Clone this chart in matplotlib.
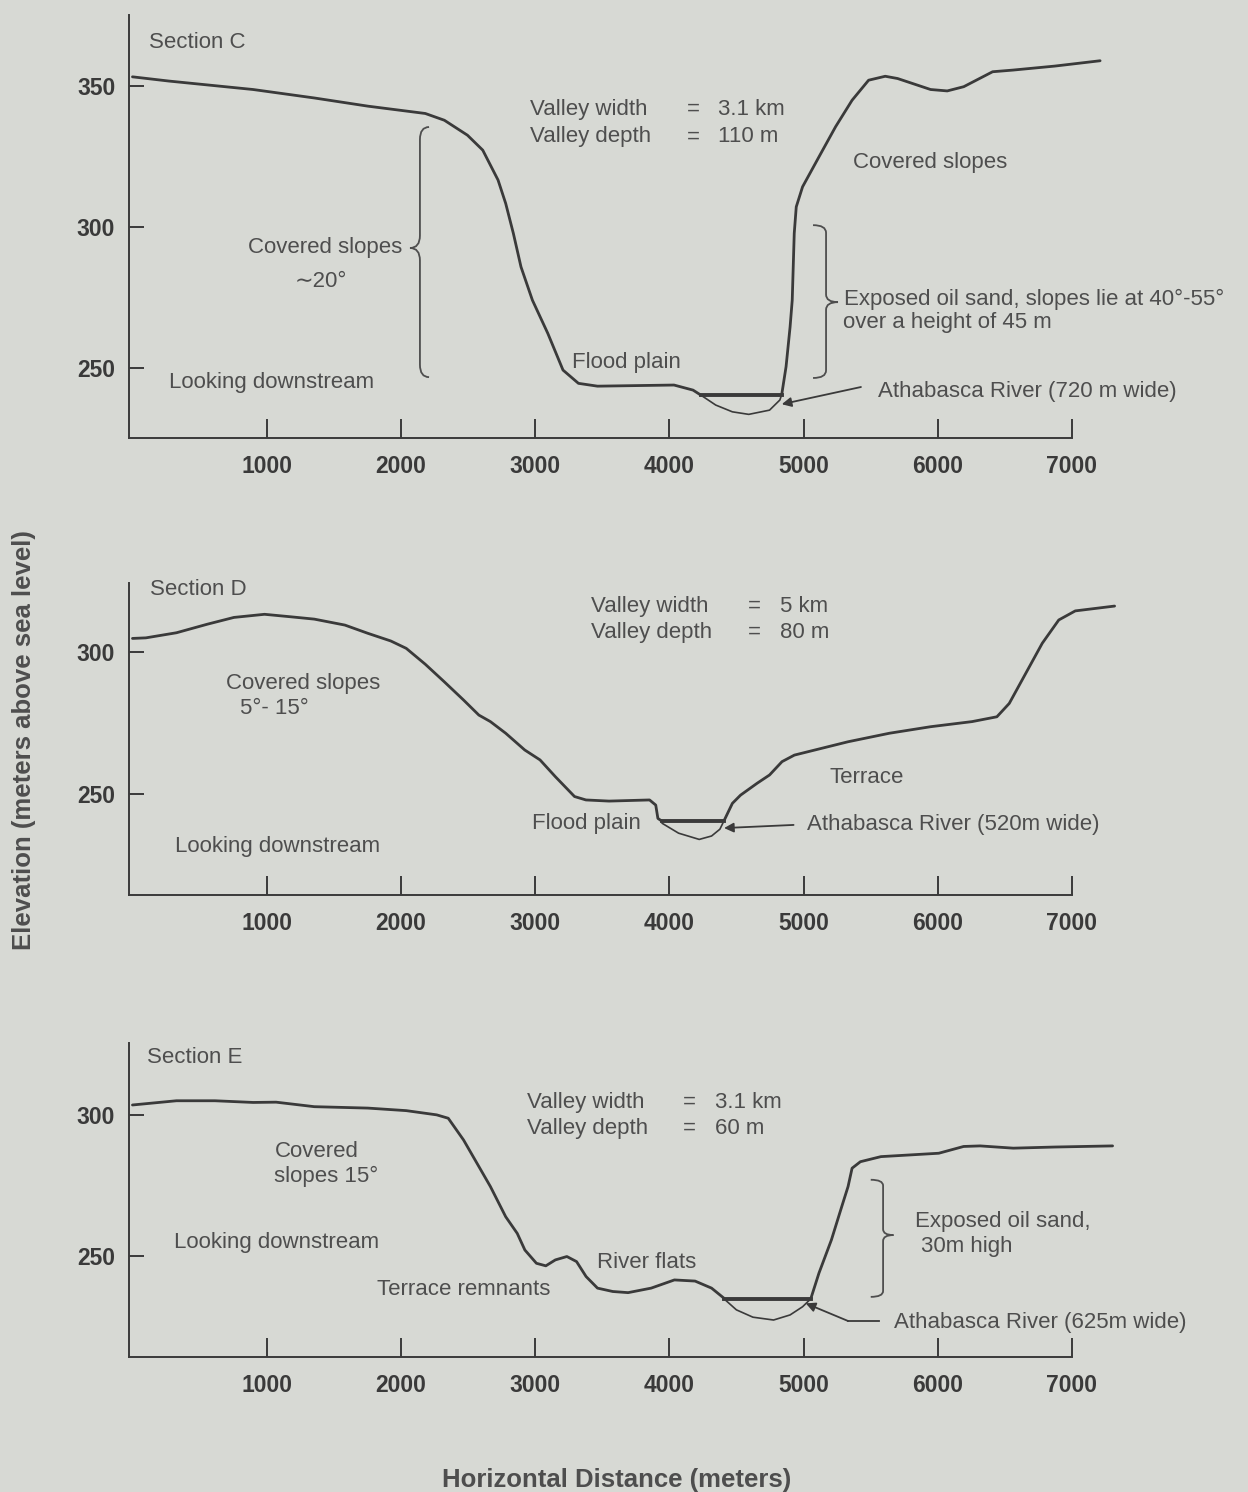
import matplotlib
matplotlib.use("Agg")
import matplotlib.pyplot as plt
from matplotlib.path import Path
from matplotlib.patches import PathPatch

plt.rcParams["font.family"] = ["Liberation Sans", "DejaVu Sans"]

BG = "#d7d9d4"
INK = "#3a3a3a"
TXT = "#4e4e4e"

# ---- Section C profile (distance m, elevation m) ----
c_left_x = [0, 271, 899, 1355, 1754, 2182, 2324, 2496, 2610, 2724, 2781, 2838,
            2895, 2980, 3095, 3208, 3323, 3465, 4035, 4177, 4236]
c_left_z = [353.3, 351.8, 348.8, 345.8, 342.9, 340.3, 337.9, 332.6, 327.3, 316.7,
            308.4, 297.8, 285.9, 274.1, 262.3, 249.3, 244.6, 243.6, 244.0, 242.2, 240.4]
c_bed_x = [4236, 4346, 4470, 4592, 4747, 4824, 4838]
c_bed_z = [240.4, 236.9, 234.5, 233.6, 235.1, 238.7, 240.7]
c_right_x = [4838, 4870, 4900, 4916, 4931, 4946, 4993, 5115, 5239, 5362, 5485, 5609,
             5701, 5947, 6071, 6194, 6409, 6563, 6871, 7210]
c_right_z = [240.7, 250.5, 264.6, 274.1, 297.8, 307.2, 314.3, 324.9, 335.6, 345.0,
             352.1, 353.5, 352.7, 348.8, 348.3, 349.8, 355.1, 355.7, 357.1, 359.0]
c_river = [4236, 4838]
c_level = 240.6

# ---- Section D profile ----
d_left_x = [0, 100, 328, 557, 756, 984, 1184, 1355, 1583, 1754, 1925, 2040, 2182,
            2324, 2467, 2581, 2667, 2781, 2923, 3037, 3151, 3294, 3379, 3551, 3853,
            3899, 3915, 3946]
d_left_z = [304.8, 305.0, 306.8, 309.8, 312.2, 313.3, 312.4, 311.6, 309.5, 306.6,
            303.9, 301.3, 295.7, 289.5, 283.1, 277.8, 275.5, 271.4, 265.5, 262.0,
            256.1, 249.1, 247.9, 247.5, 247.9, 246.1, 241.4, 240.4]
d_bed_x = [3946, 4069, 4223, 4315, 4377, 4408]
d_bed_z = [239.7, 236.2, 234.0, 235.2, 237.6, 240.6]
d_right_x = [4408, 4470, 4531, 4655, 4747, 4840, 4932, 5085, 5332, 5640, 5947, 6256,
             6441, 6533, 6656, 6779, 6902, 7025, 7180, 7318]
d_right_z = [240.6, 246.7, 249.6, 253.8, 256.7, 261.4, 263.7, 265.5, 268.4, 271.4,
             273.7, 275.5, 277.2, 281.9, 292.5, 303.1, 311.3, 314.5, 315.4, 316.2]
d_river = [3946, 4408]
d_level = 240.6

# ---- Section E profile ----
e_left_x = [0, 328, 614, 899, 1070, 1355, 1754, 2040, 2267, 2353, 2467, 2581, 2667,
            2781, 2867, 2924, 3010, 3080, 3151, 3237, 3309, 3380, 3465, 3579, 3693,
            3865, 4038, 4192, 4315, 4408]
e_left_z = [303.5, 305.0, 305.0, 304.4, 304.5, 302.9, 302.4, 301.5, 300.0, 298.8,
            291.1, 281.7, 274.6, 263.9, 258.0, 252.1, 247.4, 246.5, 248.6, 249.8,
            248.0, 242.7, 238.6, 237.4, 237.0, 238.6, 241.5, 241.1, 238.6, 235.0]
e_bed_x = [4408, 4500, 4623, 4777, 4900, 4993, 5054]
e_bed_z = [234.8, 230.9, 228.3, 227.3, 229.1, 232.0, 234.8]
e_right_x = [5054, 5115, 5208, 5285, 5332, 5362, 5424, 5577, 5793, 6008, 6193, 6316,
             6563, 6871, 7303]
e_right_z = [234.8, 243.9, 255.7, 267.5, 274.6, 281.1, 283.4, 285.2, 285.8, 286.4,
             288.8, 289.0, 288.2, 288.6, 289.0]
e_river = [4408, 5054]
e_level = 234.8

x_ticks = [1000, 2000, 3000, 4000, 5000, 6000, 7000]
c_yticks = [250, 300, 350]
de_yticks = [250, 300]


def setup(ax, ylim, yticks):
    ax.set_facecolor(BG)
    ax.set_xlim(-25, 8000)
    ax.set_ylim(*ylim)
    for s in ["top", "right"]:
        ax.spines[s].set_visible(False)
    for s in ["left", "bottom"]:
        ax.spines[s].set_color(INK)
        ax.spines[s].set_linewidth(1.4)
    ax.spines["bottom"].set_bounds(-25, 7000)
    ax.set_xticks(x_ticks)
    ax.set_xticklabels([str(t) for t in x_ticks])
    ax.set_yticks(yticks)
    ax.set_yticklabels([str(t) for t in yticks])
    ax.tick_params(axis="x", direction="in", length=14, width=1.4, color=INK, pad=12)
    ax.tick_params(axis="y", direction="in", length=11, width=1.4, color=INK, pad=10)
    for lab in ax.get_xticklabels() + ax.get_yticklabels():
        lab.set_fontweight("bold")
        lab.set_fontsize(16.5)
        lab.set_color(INK)


def profile(ax, lx, lz, bx, bz, rx, rz, river, level):
    kw = dict(color=INK, solid_capstyle="round", solid_joinstyle="round")
    ax.plot(lx, lz, lw=2.0, **kw)
    ax.plot(bx, bz, lw=1.2, **kw)
    ax.plot(rx, rz, lw=2.0, **kw)
    ax.plot(river, [level, level], color=INK, lw=2.8)


def brace(ax, x, y_lo, y_hi, y_mid, x_tip, x_hook):
    # curly bracket drawn as quadratic curves, hooks toward x_hook, point toward x_tip
    r = (y_hi - y_lo) * 0.05
    verts = [(x_hook, y_hi), (x, y_hi), (x, y_hi - r),
             (x, y_mid + r),
             (x, y_mid), (x_tip, y_mid),
             (x, y_mid), (x, y_mid - r),
             (x, y_lo + r),
             (x, y_lo), (x_hook, y_lo)]
    codes = [Path.MOVETO, Path.CURVE3, Path.CURVE3,
             Path.LINETO,
             Path.CURVE3, Path.CURVE3,
             Path.CURVE3, Path.CURVE3,
             Path.LINETO,
             Path.CURVE3, Path.CURVE3]
    ax.add_patch(PathPatch(Path(verts, codes), fill=False, edgecolor=TXT, lw=1.3))


def label(ax, x, y, s, **kw):
    ax.text(x, y, s, fontsize=16, color=TXT, va="baseline", **kw)


def valley(ax, x, y_top, y_bot, x_eq, x_val, width, depth):
    label(ax, x, y_top, "Valley width")
    label(ax, x, y_bot, "Valley depth")
    label(ax, x_eq, y_top, "=", ha="center")
    label(ax, x_eq, y_bot, "=", ha="center")
    label(ax, x_val, y_top, width)
    label(ax, x_val, y_bot, depth)


arrow_kw = dict(arrowstyle="-|>", color=INK, lw=1.3, mutation_scale=14,
                shrinkA=0, shrinkB=0)

fig = plt.figure(figsize=(12.48, 14.92), dpi=100)
fig.patch.set_facecolor(BG)

axc = fig.add_axes([0.10345, 0.7064, 0.8630, 0.2835])
axd = fig.add_axes([0.10345, 0.4001, 0.8630, 0.2091])
axe = fig.add_axes([0.10345, 0.0905, 0.8630, 0.2105])

# Section C
setup(axc, (225.2, 375.2), c_yticks)
profile(axc, c_left_x, c_left_z, c_bed_x, c_bed_z, c_right_x, c_right_z, c_river, c_level)
label(axc, 123, 363.5, "Section C")
valley(axc, 2962, 339.7, 330.1, 4176, 4362, "3.1 km", "110 m")
label(axc, 2011, 290.8, "Covered slopes", ha="right")
label(axc, 1211, 278.7, "\u223c20\u00b0")
brace(axc, 2142, 246.8, 335.5, 292.6, 2068, 2210)
label(axc, 272, 242.9, "Looking downstream")
label(axc, 3275, 250.0, "Flood plain")
label(axc, 5369, 320.9, "Covered slopes")
brace(axc, 5168, 246.5, 300.7, 273.4, 5257, 5071)
label(axc, 5302, 272.3, "Exposed oil sand, slopes lie at 40\u00b0-55\u00b0")
label(axc, 5295, 264.2, "over a height of 45 m")
label(axc, 5555, 239.7, "Athabasca River (720 m wide)")
axc.annotate("", xy=(4838, 237.2), xytext=(5428, 243.3), arrowprops=arrow_kw)

# Section D
setup(axd, (214.4, 324.3), de_yticks)
profile(axd, d_left_x, d_left_z, d_bed_x, d_bed_z, d_right_x, d_right_z, d_river, d_level)
label(axd, 131, 320.1, "Section D")
valley(axd, 3416, 314.1, 304.9, 4631, 4825, "5 km", "80 m")
label(axd, 697, 287.0, "Covered slopes")
label(axd, 801, 278.2, "5\u00b0- 15\u00b0")
label(axd, 317, 229.6, "Looking downstream")
label(axd, 2977, 237.7, "Flood plain")
label(axd, 5190, 253.9, "Terrace")
label(axd, 5026, 237.3, "Athabasca River (520m wide)")
axd.annotate("", xy=(4408, 238.0), xytext=(4926, 239.1), arrowprops=arrow_kw)

# Section E
setup(axe, (214.2, 325.5), de_yticks)
profile(axe, e_left_x, e_left_z, e_bed_x, e_bed_z, e_right_x, e_right_z, e_river, e_level)
label(axe, 108, 318.4, "Section E")
valley(axe, 2940, 302.5, 293.3, 4147, 4340, "3.1 km", "60 m")
label(axe, 1062, 285.1, "Covered")
label(axe, 1054, 276.2, "slopes 15\u00b0")
label(axe, 309, 252.8, "Looking downstream")
label(axe, 1822, 236.2, "Terrace remnants")
label(axe, 3465, 245.7, "River flats")
brace(axe, 5593, 235.5, 277.0, 257.4, 5670, 5501)
label(axe, 5831, 260.3, "Exposed oil sand,")
label(axe, 5875, 251.4, "30m high")
label(axe, 5674, 224.5, "Athabasca River (625m wide)")
axe.plot([5563, 5332], [226.95, 226.95], color=INK, lw=1.3)
axe.annotate("", xy=(5017, 233.2), xytext=(5332, 226.95), arrowprops=arrow_kw)

fig.text(0.019, 0.504, "Elevation (meters above sea level)", rotation=90,
         ha="center", va="center", fontsize=18.5, fontweight="bold", color=TXT)
fig.text(0.494, 0.0034, "Horizontal Distance (meters)", ha="center", va="baseline",
         fontsize=18.5, fontweight="bold", color=TXT)

fig.savefig("out.png", dpi=100, facecolor=BG)
